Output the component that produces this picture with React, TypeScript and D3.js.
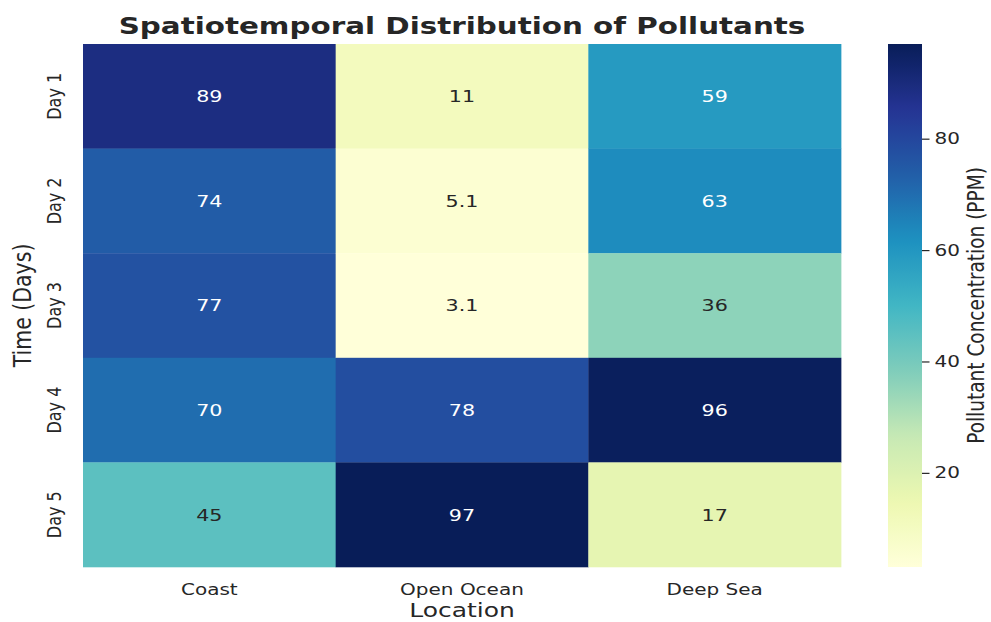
import { useEffect, useRef } from 'react'
import * as d3 from 'd3'

// data
const days = ['Day 1', 'Day 2', 'Day 3', 'Day 4', 'Day 5']
const locations = ['Coast', 'Open Ocean', 'Deep Sea']
const coast = [89, 74, 77, 70, 45]
const openOcean = [11, 5.1, 3.1, 78, 97]
const deepSea = [59, 63, 36, 96, 17]
const cbarTicks = [20, 40, 60, 80]

// matplotlib YlGnBu anchors
const YLGNBU = ['#ffffd9', '#edf8b1', '#c7e9b4', '#7fcdbb', '#41b6c4', '#1d91c0', '#225ea8', '#253494', '#081d58']

// the reference image is horizontally stretched, so draw in a narrower box and stretch it
const K = 1.25
const WIDTH = 991
const HEIGHT = 622
const VW = WIDTH / K

const TEXT = '#262626'
const FONT = 'DejaVu Sans, sans-serif'

function luminance(c: string) {
  const rgb = d3.rgb(c)
  const f = (v: number) => {
    const s = v / 255
    return s <= 0.03928 ? s / 12.92 : Math.pow((s + 0.055) / 1.055, 2.4)
  }
  return 0.2126 * f(rgb.r) + 0.7152 * f(rgb.g) + 0.0722 * f(rgb.b)
}

export default function App() {
  const svgRef = useRef<SVGSVGElement>(null)

  useEffect(() => {
    if (!svgRef.current) return
    const svg = d3.select(svgRef.current)
    svg.selectAll('*').remove()

    const columns = [coast, openOcean, deepSea]
    const cells = locations.flatMap((loc, i) =>
      days.map((day, j) => ({ loc, day, value: columns[i][j] }))
    )

    const vmin = d3.min(cells, d => d.value) as number
    const vmax = d3.max(cells, d => d.value) as number

    const left = 83 / K
    const right = 841 / K
    const top = 44
    const bottom = 567

    const x = d3.scaleBand().domain(locations).range([left, right])
    const y = d3.scaleBand().domain(days).range([top, bottom])
    const color = d3.scaleLinear<string>()
      .domain(YLGNBU.map((_, i) => vmin + (i * (vmax - vmin)) / (YLGNBU.length - 1)))
      .range(YLGNBU)
      .interpolate(d3.interpolateRgb)
      .clamp(true)

    const fmt = d3.format('.2g')

    // cells
    const g = svg.append('g')
    g.selectAll('rect.cell')
      .data(cells)
      .enter()
      .append('rect')
      .attr('class', 'cell')
      .attr('x', d => x(d.loc)!)
      .attr('y', d => y(d.day)!)
      .attr('width', x.bandwidth() + 0.3)
      .attr('height', y.bandwidth() + 0.3)
      .attr('fill', d => color(d.value))

    g.selectAll('text.annot')
      .data(cells)
      .enter()
      .append('text')
      .attr('class', 'annot')
      .attr('x', d => x(d.loc)! + x.bandwidth() / 2)
      .attr('y', d => y(d.day)! + y.bandwidth() / 2)
      .attr('dy', '0.36em')
      .attr('text-anchor', 'middle')
      .attr('font-family', FONT)
      .attr('font-size', 16.5)
      .attr('fill', d => (luminance(color(d.value)) > 0.408 ? TEXT : '#ffffff'))
      .text(d => fmt(d.value))

    // x tick labels
    g.selectAll('text.xtick')
      .data(locations)
      .enter()
      .append('text')
      .attr('class', 'xtick')
      .attr('x', d => x(d)! + x.bandwidth() / 2)
      .attr('y', 595)
      .attr('text-anchor', 'middle')
      .attr('font-family', FONT)
      .attr('font-size', 16)
      .attr('fill', TEXT)
      .text(d => d)

    // y tick labels, rotated
    g.selectAll('text.ytick')
      .data(days)
      .enter()
      .append('text')
      .attr('class', 'ytick')
      .attr('transform', d => `translate(${61 / K},${y(d)! + y.bandwidth() / 2}) rotate(-90)`)
      .attr('text-anchor', 'middle')
      .attr('font-family', FONT)
      .attr('font-size', 16)
      .attr('fill', TEXT)
      .text(d => d)

    // axis labels
    svg.append('text')
      .attr('x', (left + right) / 2)
      .attr('y', 617)
      .attr('text-anchor', 'middle')
      .attr('font-family', FONT)
      .attr('font-size', 20)
      .attr('fill', TEXT)
      .text('Location')

    svg.append('text')
      .attr('transform', `translate(${31 / K},${(top + bottom) / 2}) rotate(-90)`)
      .attr('text-anchor', 'middle')
      .attr('font-family', FONT)
      .attr('font-size', 20.5)
      .attr('fill', TEXT)
      .text('Time (Days)')

    // title
    svg.append('text')
      .attr('x', 462 / K)
      .attr('y', 34)
      .attr('text-anchor', 'middle')
      .attr('font-family', FONT)
      .attr('font-weight', 'bold')
      .attr('font-size', 23.5)
      .attr('fill', TEXT)
      .text('Spatiotemporal Distribution of Pollutants')

    // colorbar
    const cx0 = 888 / K
    const cx1 = 922 / K
    const cy = d3.scaleLinear().domain([vmin, vmax]).range([bottom, top])

    const grad = svg.append('defs')
      .append('linearGradient')
      .attr('id', 'cbar')
      .attr('x1', 0).attr('y1', 1)
      .attr('x2', 0).attr('y2', 0)
    d3.range(0, 1.0001, 0.02).forEach(t => {
      grad.append('stop')
        .attr('offset', t)
        .attr('stop-color', color(vmin + t * (vmax - vmin)))
    })

    svg.append('rect')
      .attr('x', cx0)
      .attr('y', top)
      .attr('width', cx1 - cx0)
      .attr('height', bottom - top)
      .attr('fill', 'url(#cbar)')

    const axis = svg.append('g')
      .attr('transform', `translate(${cx1},0)`)
      .call(d3.axisRight(cy).tickValues(cbarTicks).tickSize(7.5 / K).tickPadding(4))
    axis.select('.domain').remove()
    axis.selectAll('line').attr('stroke', TEXT).attr('stroke-width', 1.2)
    axis.selectAll('text')
      .attr('font-family', FONT)
      .attr('font-size', 16)
      .attr('fill', TEXT)

    svg.append('text')
      .attr('transform', `translate(${984 / K},${(top + bottom) / 2}) rotate(-90)`)
      .attr('text-anchor', 'middle')
      .attr('font-family', FONT)
      .attr('font-size', 18.5)
      .attr('fill', TEXT)
      .text('Pollutant Concentration (PPM)')
  }, [])

  return (
    <div style={{ position: 'absolute', left: 0, top: 0 }}>
      <svg
        ref={svgRef}
        width={WIDTH}
        height={HEIGHT}
        viewBox={`0 0 ${VW} ${HEIGHT}`}
        preserveAspectRatio="none"
        style={{ display: 'block', background: '#ffffff' }}
      />
    </div>
  )
}
